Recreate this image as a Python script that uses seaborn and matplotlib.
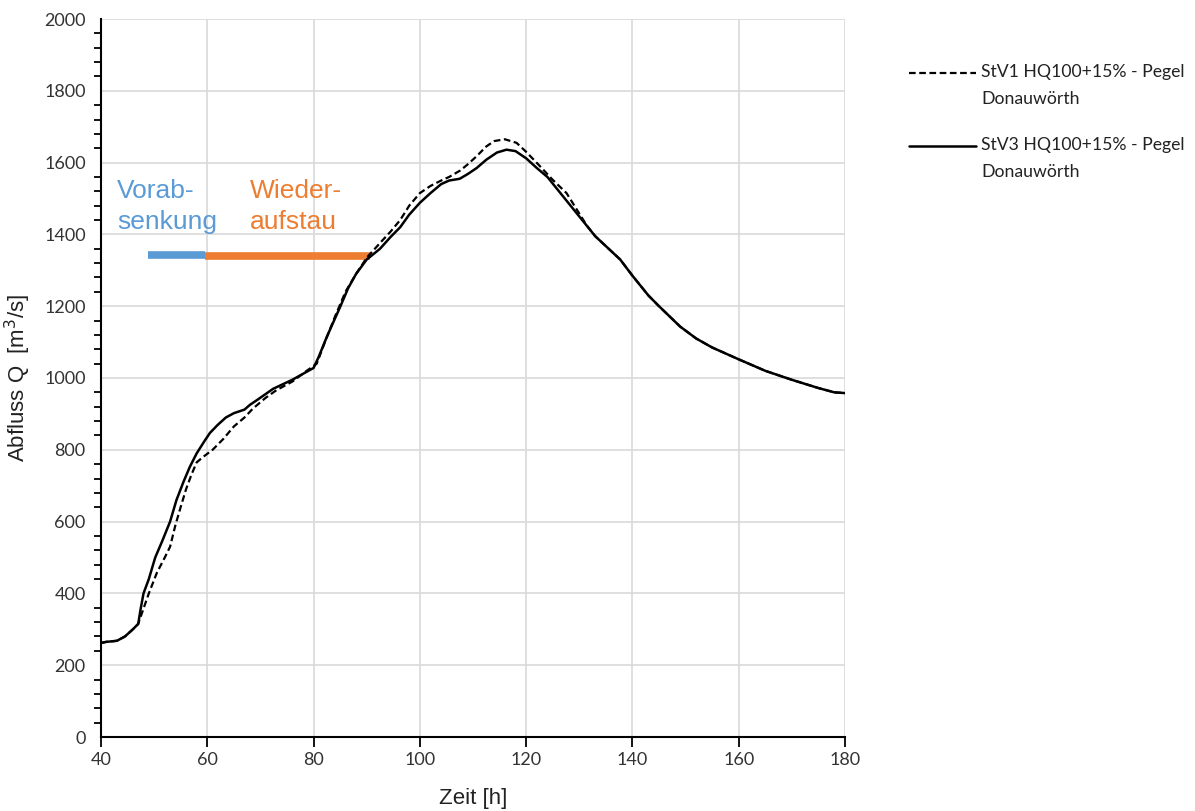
import matplotlib
matplotlib.use("Agg")
import matplotlib.pyplot as plt
import seaborn as sns
import pandas as pd
from matplotlib.ticker import MultipleLocator
from matplotlib.legend_handler import HandlerLine2D
from matplotlib.lines import Line2D

# ---------------- data ----------------
t_stv3 = [40, 41, 43, 44.5, 46, 47, 47.5, 48, 49, 50.2, 51.5, 53, 54.2, 55.5, 56.7, 58, 59.5,
          60.5, 62, 63.5, 65, 67, 68, 69.5, 72.4, 76, 80, 81, 82.5, 85, 86.5, 88, 90, 92.5,
          94.5, 96.3, 98, 100, 102, 104, 105.5, 107.5, 109, 110.7, 112.5, 114.5, 116.3, 118,
          120, 122, 124, 127, 130, 133, 137.7, 140, 143, 145, 149, 152, 155, 160, 165, 170,
          175, 178, 180]
q_stv3 = [262, 265, 268, 280, 300, 315, 360, 400, 440, 500, 545, 600, 660, 710, 752, 790, 825,
          847, 870, 890, 902, 912, 925, 940, 970, 995, 1028, 1060, 1115, 1198, 1250, 1290, 1330,
          1360, 1393, 1420, 1455, 1488, 1515, 1540, 1550, 1555, 1568, 1585, 1608, 1628, 1636,
          1632, 1612, 1585, 1560, 1505, 1450, 1395, 1330, 1285, 1230, 1200, 1143, 1110, 1085,
          1052, 1020, 995, 972, 960, 958]

t_stv1 = [40, 41, 43, 44.5, 46, 47, 47.7, 49, 50.5, 52, 53, 54, 55, 56, 57, 58, 59.2, 61, 63,
          65, 67, 68.6, 71, 73, 76, 78.7, 80.6, 82, 84, 86, 88, 90, 92.5, 94.5, 96.3, 98, 100,
          102, 104, 105.5, 107.6, 109, 110.7, 112.5, 114, 116, 118.2, 120, 122.6, 125, 127.6,
          129.5, 131.4, 133, 137.7, 140, 143, 145, 149, 152, 155, 160, 165, 170, 175, 178, 180]
q_stv1 = [262, 265, 268, 280, 300, 315, 345, 400, 457, 500, 530, 590, 641, 690, 730, 765, 780,
          800, 830, 865, 890, 915, 945, 966, 990, 1020, 1040, 1095, 1170, 1240, 1290, 1335, 1376,
          1408, 1440, 1480, 1515, 1535, 1550, 1560, 1578, 1595, 1618, 1645, 1660, 1665, 1655,
          1630, 1590, 1552, 1515, 1470, 1425, 1395, 1330, 1285, 1230, 1200, 1143, 1110, 1085,
          1052, 1020, 995, 972, 960, 958]

label_stv1 = "StV1 HQ100+15% - Pegel\nDonauwörth"
label_stv3 = "StV3 HQ100+15% - Pegel\nDonauwörth"

phase_labels = ["Vorab-\nsenkung", "Wieder-\naufstau"]
phase_label_x = [43.0, 68.1]
phase_start = [48.8, 59.6]
phase_end = [59.6, 90.6]
phase_level = [1343, 1340]
phase_colors = ["#5B9BD5", "#ED7D31"]

x_ticks = [40, 60, 80, 100, 120, 140, 160, 180]
y_ticks = [0, 200, 400, 600, 800, 1000, 1200, 1400, 1600, 1800, 2000]


class TopLineHandler(HandlerLine2D):
    """Legend handle aligned with the first line of a two-line label."""
    def __init__(self, shift=9.0, **kw):
        super().__init__(**kw)
        self.shift = shift

    def create_artists(self, legend, orig_handle, xdescent, ydescent, width, height,
                       fontsize, trans):
        arts = super().create_artists(legend, orig_handle, xdescent, ydescent, width,
                                      height, fontsize, trans)
        for a in arts:
            if isinstance(a, Line2D):
                a.set_ydata([y + self.shift for y in a.get_ydata()])
        return arts


# ---------------- plot ----------------
sns.set_theme(style="white")
plt.rcParams['font.family'] = ['Liberation Sans', 'DejaVu Sans']

fig = plt.figure(figsize=(11.95, 8.11), dpi=100)
ax = fig.add_axes([101 / 1195, 1 - 737 / 811, 744 / 1195, 718 / 811])

df1 = pd.DataFrame({"t": t_stv1, "q": q_stv1})
df3 = pd.DataFrame({"t": t_stv3, "q": q_stv3})
sns.lineplot(data=df1, x="t", y="q", ax=ax, color="black", linewidth=1.6,
             linestyle=(0, (3, 1.6)), label=label_stv1, sort=False)
sns.lineplot(data=df3, x="t", y="q", ax=ax, color="black", linewidth=1.8,
             label=label_stv3, sort=False)

for s, e, lv, c in zip(phase_start, phase_end, phase_level, phase_colors):
    ax.plot([s, e], [lv, lv], color=c, linewidth=5.5, solid_capstyle="butt", zorder=1.5)

for lx, txt, c in zip(phase_label_x, phase_labels, phase_colors):
    ax.text(lx, 1478, txt, color=c, fontsize=19, ha="left", va="center",
            linespacing=1.4)

ax.set_xlim(40, 180)
ax.set_ylim(0, 2000)
ax.set_xticks(x_ticks)
ax.set_yticks(y_ticks)
ax.yaxis.set_minor_locator(MultipleLocator(40))
ax.grid(True, which="major", color="#d9d9d9", linewidth=1.2)
ax.set_axisbelow(True)

for side in ["top", "right"]:
    ax.spines[side].set_visible(False)
for side in ["left", "bottom"]:
    ax.spines[side].set_color("black")
    ax.spines[side].set_linewidth(1.5)

ax.tick_params(axis="both", which="major", direction="out", length=7, width=1.3,
               color="black", labelsize=13, labelcolor="#333333", pad=4)
ax.tick_params(axis="y", which="minor", direction="out", length=5, width=1.3,
               color="black", left=True)
ax.tick_params(axis="x", which="both", bottom=True)
for lab in ax.get_xticklabels() + ax.get_yticklabels():
    lab.set_family(["Lato", "DejaVu Sans"])

ax.set_xlabel("Zeit [h]", fontsize=16, labelpad=14.5, color="#222222")
ax.set_ylabel("Abfluss Q  [m$^3$/s]", fontsize=16, labelpad=8, color="#222222")

ax.get_legend().remove()
handles, labels = ax.get_legend_handles_labels()
leg = fig.legend(handles[:2], labels[:2], loc="upper left",
                 bbox_to_anchor=(893 / 1195, 1 - 48 / 811), frameon=False,
                 prop={"family": ["Lato", "DejaVu Sans"], "size": 12.7},
                 handlelength=3.8, handletextpad=0.3, labelspacing=1.72,
                 handler_map={Line2D: TopLineHandler(shift=9.5)})
for t in leg.get_texts():
    t.set_color("#222222")
    t.set_linespacing(1.85)

fig.savefig("out.png", dpi=100)
